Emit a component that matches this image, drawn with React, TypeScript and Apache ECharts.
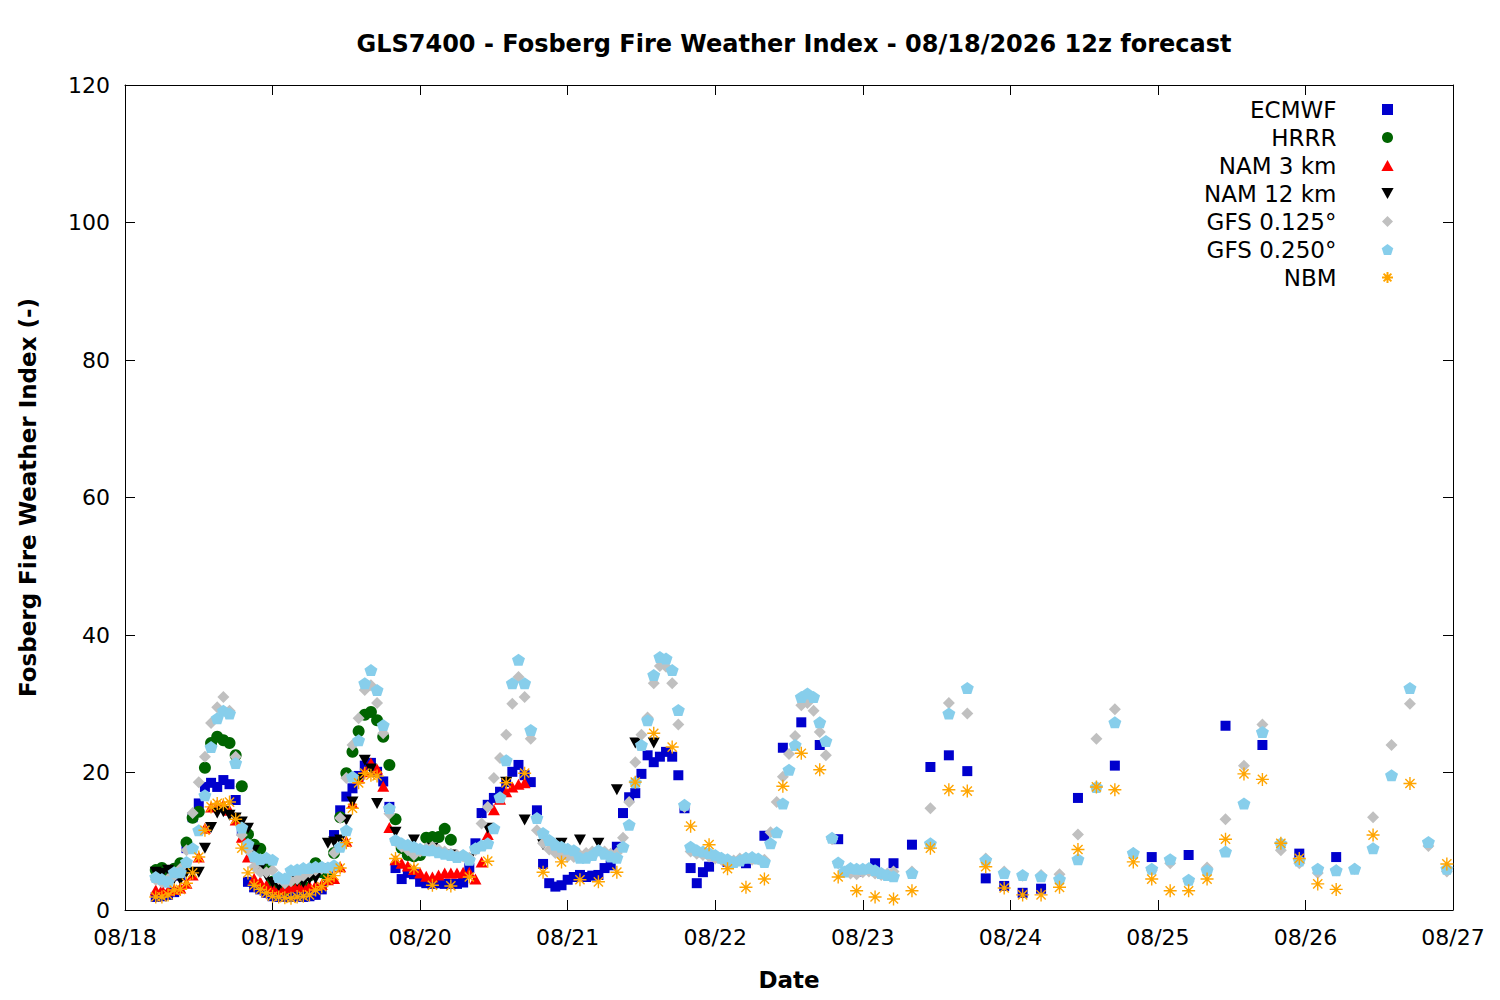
import { useEffect, useRef } from "react";
import * as echarts from "echarts";

// x axis is hours since 08/18 00 local; the 12z run starts at 05 local
const DAY_LABELS = ["08/18", "08/19", "08/20", "08/21", "08/22", "08/23", "08/24", "08/25", "08/26", "08/27"];
const FIRST_HOUR = 5;

// ECMWF: hourly to h95, 3-hourly to h149, 6-hourly after
const ECMWF_1H = [
  1.9, 2.0, 2.2, 2.6, 5.0, 9.0, 13.5, 15.5, 17.9, 18.5, 17.9, 18.9, 18.3, 16.0, 11.5, 4.1, 3.3, 3.0, 2.5, 2.0,
  1.9, 1.9, 1.9, 2.0, 1.9, 2.0, 2.2, 3.0, 6.0, 10.9, 14.5, 16.5, 17.7, 19.5, 21.0, 21.4, 20.1, 18.7, 15.0, 6.1,
  4.5, 5.4, 5.2, 4.1, 3.9, 3.8, 3.9, 3.8, 3.8, 3.8, 4.0, 6.1, 9.7, 14.1, 15.3, 16.3, 17.2, 18.6, 20.1, 21.1,
  19.6, 18.6, 14.5, 6.7, 3.9, 3.4, 3.6, 4.4, 4.8, 5.1, 4.8, 5.0, 5.1, 6.1, 6.5, 9.2, 14.1, 16.4, 17.0, 19.8,
  22.5, 21.5, 22.3, 23.0, 22.3, 19.6, 14.8, 6.1, 3.9, 5.5, 6.3,
];
const ECMWF_3H = [7.0, 6.8, 10.8, 23.6, 27.3, 24.0, 10.3, 5.6, 6.8, 6.8, 9.5, 20.8, 22.5, 20.2, 4.6, 3.5, 2.5, 3.1];
const ECMWF_6H = [16.3, 21.0, 7.7, 8.0, 26.8, 24.0, 8.2, 7.7];

const HRRR_1H = [
  5.8, 6.1, 5.5, 6.0, 6.8, 9.8, 13.4, 14.3, 20.7, 24.3, 25.2, 24.7, 24.3, 22.5, 18.0, 11.0, 9.5, 8.9, 6.5, 4.1,
  3.5, 3.0, 3.5, 4.0, 3.5, 5.0, 6.8, 5.5, 4.8, 8.3, 13.5, 19.9, 23.0, 26.0, 28.4, 28.8, 27.6, 25.2, 21.1, 13.2,
  9.0, 8.0, 7.8, 8.0, 10.5, 10.6, 10.6, 11.8, 10.2,
];

const NAM3_1H = [
  2.9, 3.0, 2.8, 3.0, 3.2, 3.9, 5.1, 7.7, 11.9, 15.0, 15.3, 15.3, 14.5, 13.1, 10.6, 7.7, 4.6, 4.1, 3.6, 3.2,
  3.0, 3.2, 3.4, 3.6, 3.4, 3.5, 3.6, 3.7, 4.4, 4.6, 6.3, 10.0, 15.5, 19.2, 20.1, 21.4, 20.5, 18.0, 12.0, 7.3,
  6.8, 6.4, 5.9, 5.4, 4.9, 4.8, 5.1, 5.4, 5.4, 5.4, 5.5, 5.5, 4.5, 7.0, 11.0, 14.6, 16.1, 17.2, 17.9, 18.3,
  18.5,
];

const NAM12_1H = [
  5.5, 5.3, 5.8, 4.6, 4.4, 5.5, 5.4, 5.5, 9.0, 12.0, 14.1, 14.3, 13.8, 13.4, 12.8, 11.9, 8.7, 6.0, 5.0, 4.0,
  3.5, 3.8, 4.4, 4.2, 4.0, 4.5, 4.6, 6.0, 9.7, 9.9, 10.2, 13.1, 15.7, 19.0, 21.8, 20.5, 15.5,
];
const NAM12_3H = [11.3, 10.2, 9.0, 8.0, 7.5, 11.9, 18.6, 13.1, 9.5, 9.7, 10.2, 9.7, 17.5, 24.3, 24.3];

const GFS125_1H = [
  4.4, 4.0, 4.5, 5.0, 6.0, 8.7, 14.1, 18.6, 22.3, 27.2, 29.5, 31.0, 29.0, 22.3, 10.9, 8.7, 6.3, 5.5, 5.5, 5.8,
  4.5, 3.9, 4.2, 4.5, 5.0, 5.5, 5.8, 6.0, 6.0, 8.3, 13.4, 19.2, 24.0, 27.9, 32.0, 32.7, 30.1, 25.7, 14.0, 10.0,
  9.2, 8.7, 8.0, 8.5, 9.0, 9.2, 8.8, 8.5, 8.2, 8.0, 7.8, 7.6, 8.7, 12.6, 15.0, 19.2, 22.1, 25.5, 30.0, 33.9,
  31.0, 24.9, 11.6, 9.7, 8.8, 8.3, 8.0, 7.8, 7.7, 8.0, 8.3, 8.5, 8.7, 8.5, 8.2, 8.3, 10.5, 15.7, 21.5, 25.5,
  28.0, 33.0, 35.5, 35.4, 33.0, 27.0, 15.0, 8.5, 8.2, 8.0, 7.8, 7.5, 7.3, 7.0, 7.2, 7.5, 7.6, 7.3, 7.4, 7.3,
  11.3, 15.7, 19.4, 22.7, 25.3, 29.8, 30.1, 29.0, 25.9, 22.5, 10.3, 6.8, 5.5, 5.3, 5.2, 5.5, 5.6, 5.3, 5.1, 5.3,
  5.6,
];
const GFS125_3H = [
  5.6, 14.8, 30.1, 28.6, 7.5, 5.6, 5.0, 5.1, 5.2, 11.0, 24.9, 29.2, 8.3, 5.8, 6.8,
  4.2, 6.2, 13.2, 21.0, 27.0, 8.7, 6.8, 5.4, 5.8, 6.0, 13.5, 24.0, 30.0, 9.3, 5.6,
];

const GFS250_1H = [
  4.8, 4.5, 4.1, 5.5, 5.5, 7.0, 9.0, 11.6, 16.7, 23.7, 27.9, 29.0, 28.6, 21.4, 12.0, 9.6, 7.8, 7.4, 7.6, 7.3,
  4.8, 4.6, 5.8, 5.9, 6.1, 6.1, 6.3, 6.3, 6.2, 6.5, 9.2, 11.6, 19.4, 24.7, 33.0, 34.9, 32.0, 26.9, 14.8, 10.2,
  9.7, 9.5, 9.2, 8.9, 8.7, 8.7, 8.4, 8.2, 8.0, 7.7, 8.0, 7.3, 9.0, 9.4, 9.7, 11.9, 16.4, 21.8, 33.0, 36.4,
  33.0, 26.2, 13.4, 11.2, 10.2, 9.5, 9.2, 8.9, 8.7, 7.6, 7.6, 8.0, 8.7, 8.2, 7.8, 7.6, 9.2, 12.4, 18.6, 24.0,
  27.6, 34.2, 36.8, 36.6, 34.9, 29.1, 15.3, 9.2, 8.7, 8.5, 8.3, 8.0, 7.6, 7.4, 7.0, 7.2, 7.6, 7.7, 7.5, 7.0,
  9.7, 11.3, 15.5, 20.4, 24.0, 31.0, 31.5, 31.0, 27.3, 24.6, 10.5, 6.9, 5.6, 6.1, 6.0, 6.0, 6.1, 5.8, 5.4, 5.1,
  4.9,
];
const GFS250_3H = [
  5.4, 9.7, 28.6, 32.3, 7.3, 5.4, 5.1, 4.9, 4.5, 7.4, 17.9, 27.3, 8.3, 6.0, 7.4,
  4.4, 5.8, 8.5, 15.5, 25.9, 9.7, 7.2, 6.0, 5.8, 6.0, 9.0, 19.6, 32.3, 9.9, 6.0,
];

const NBM_1H = [
  1.9, 1.9, 2.2, 2.9, 3.0, 3.9, 5.4, 7.7, 11.6, 15.0, 15.5, 15.3, 15.7, 13.2, 9.0, 5.4, 3.6, 3.0, 2.5, 2.0,
  1.9, 1.8, 1.7, 1.9, 2.0, 2.2, 2.9, 3.4, 4.4, 5.0, 6.1, 9.8, 14.8, 18.5, 19.9, 19.6, 19.5,
];
const NBM_3H = [
  7.5, 6.1, 3.6, 3.5, 4.8, 7.1, 18.5, 19.9, 5.5, 7.0, 4.4, 4.1, 5.5, 18.6, 25.7, 23.7, 12.2, 9.5,
  6.0, 3.3, 4.5, 18.0, 22.8, 20.4, 4.8, 2.8, 1.9, 1.6, 2.8, 9.0, 17.5, 17.3, 6.3, 3.2, 2.2, 2.2,
  3.3, 8.8, 17.9, 17.5, 7.0, 4.5, 2.8, 2.8, 4.5, 10.3, 19.8, 19.0, 9.7, 7.5, 3.8, 3.0,
];
const NBM_6H = [10.9, 18.4, 6.7];

type Segment = [number, number, number[]];

function points(...segments: Segment[]) {
  const out: [number, number][] = [];
  segments.forEach(([start, step, values]) => {
    values.forEach((v, i) => out.push([start + i * step, v]));
  });
  return out;
}

const SQUARE = "path://M0,0L10,0L10,10L0,10Z";
const TRIANGLE_UP = "path://M5,0L10,9L0,9Z";
const TRIANGLE_DOWN = "path://M0,0L10,0L5,9Z";
const DIAMOND = "path://M5,0L10,5L5,10L0,5Z";
const PENTAGON = "path://M5,0L9.76,3.45L7.94,9.05L2.06,9.05L0.24,3.45Z";
const ASTERISK = "path://M5,0L5,10M0,5L10,5M1.46,1.46L8.54,8.54M1.46,8.54L8.54,1.46";

const FONT = "DejaVu Sans";

export default function App() {
  const chartRef = useRef<HTMLDivElement>(null);

  useEffect(() => {
    if (!chartRef.current) return;
    const chart = echarts.init(chartRef.current, null, { renderer: "svg" });

    const hourAxis = {
      type: "value" as const,
      min: 0,
      max: 216,
      interval: 24,
      axisLine: { onZero: false, lineStyle: { color: "#000", width: 1 } },
      axisTick: { inside: true, length: 10, lineStyle: { color: "#000" } },
      splitLine: { show: false },
    };
    const fwiAxis = {
      type: "value" as const,
      min: 0,
      max: 120,
      interval: 20,
      axisLine: { show: true, onZero: false, lineStyle: { color: "#000", width: 1 } },
      axisTick: { show: true, inside: true, length: 10, lineStyle: { color: "#000" } },
      splitLine: { show: false },
    };

    chart.setOption({
      animation: false,
      backgroundColor: "#fff",
      textStyle: { fontFamily: FONT },
      title: {
        text: "GLS7400 - Fosberg Fire Weather Index - 08/18/2026 12z forecast",
        left: 789,
        top: 27,
        textAlign: "center",
        textStyle: { fontFamily: FONT, fontSize: 24, fontWeight: "bold", color: "#000" },
      },
      grid: { left: 125, right: 47, top: 85, bottom: 90, containLabel: false },
      legend: {
        orient: "vertical",
        align: "right",
        right: 106,
        top: 98,
        padding: 0,
        itemWidth: 92,
        itemHeight: 11,
        itemGap: 5,
        selectedMode: false,
        textStyle: { fontFamily: FONT, fontSize: 23, lineHeight: 23, color: "#000" },
      },
      xAxis: [
        {
          ...hourAxis,
          position: "bottom",
          name: "Date",
          nameLocation: "middle",
          nameGap: 58,
          nameTextStyle: { fontFamily: FONT, fontSize: 23, fontWeight: "bold", color: "#000" },
          axisLabel: {
            margin: 16,
            fontFamily: FONT,
            fontSize: 22,
            color: "#000",
            formatter: (v: number) => DAY_LABELS[Math.round(v / 24)] ?? "",
          },
        },
        { ...hourAxis, position: "top", axisLabel: { show: false } },
      ],
      yAxis: [
        {
          ...fwiAxis,
          position: "left",
          name: "Fosberg Fire Weather Index (-)",
          nameLocation: "middle",
          nameGap: 86,
          nameTextStyle: { fontFamily: FONT, fontSize: 23, fontWeight: "bold", color: "#000" },
          axisLabel: { margin: 15, fontFamily: FONT, fontSize: 22, color: "#000" },
        },
        { ...fwiAxis, position: "right", axisLabel: { show: false } },
      ],
      series: [
        {
          name: "ECMWF",
          type: "scatter",
          symbol: SQUARE,
          symbolSize: 10,
          itemStyle: { color: "#0000cd", opacity: 1 },
          data: points([FIRST_HOUR, 1, ECMWF_1H], [98, 3, ECMWF_3H], [155, 6, ECMWF_6H]),
        },
        {
          name: "HRRR",
          type: "scatter",
          symbol: "circle",
          symbolSize: 12,
          itemStyle: { color: "#006400", opacity: 1 },
          data: points([FIRST_HOUR, 1, HRRR_1H]),
        },
        {
          name: "NAM 3 km",
          type: "scatter",
          symbol: TRIANGLE_UP,
          symbolSize: [12, 11],
          itemStyle: { color: "#ff0000", opacity: 1 },
          data: points([FIRST_HOUR, 1, NAM3_1H]),
        },
        {
          name: "NAM 12 km",
          type: "scatter",
          symbol: TRIANGLE_DOWN,
          symbolSize: [12, 11],
          itemStyle: { color: "#000000", opacity: 1 },
          data: points([FIRST_HOUR, 1, NAM12_1H], [44, 3, NAM12_3H]),
        },
        {
          name: "GFS 0.125°",
          type: "scatter",
          symbol: DIAMOND,
          symbolSize: 12,
          itemStyle: { color: "#c0c0c0", opacity: 1 },
          data: points([FIRST_HOUR, 1, GFS125_1H], [128, 3, GFS125_3H]),
        },
        {
          name: "GFS 0.250°",
          type: "scatter",
          symbol: PENTAGON,
          symbolSize: [13, 12],
          itemStyle: { color: "#87ceeb", opacity: 1 },
          data: points([FIRST_HOUR, 1, GFS250_1H], [128, 3, GFS250_3H]),
        },
        {
          name: "NBM",
          type: "scatter",
          symbol: ASTERISK,
          symbolSize: 13,
          itemStyle: { color: "rgba(255,165,0,0)", borderColor: "#ffa500", borderWidth: 1.4, opacity: 1 },
          data: points([FIRST_HOUR, 1, NBM_1H], [44, 3, NBM_3H], [203, 6, NBM_6H]),
        },
      ],
    });

    return () => chart.dispose();
  }, []);

  return (
    <div
      ref={chartRef}
      style={{ position: "absolute", left: 0, top: 0, width: 1500, height: 1000 }}
    />
  );
}
